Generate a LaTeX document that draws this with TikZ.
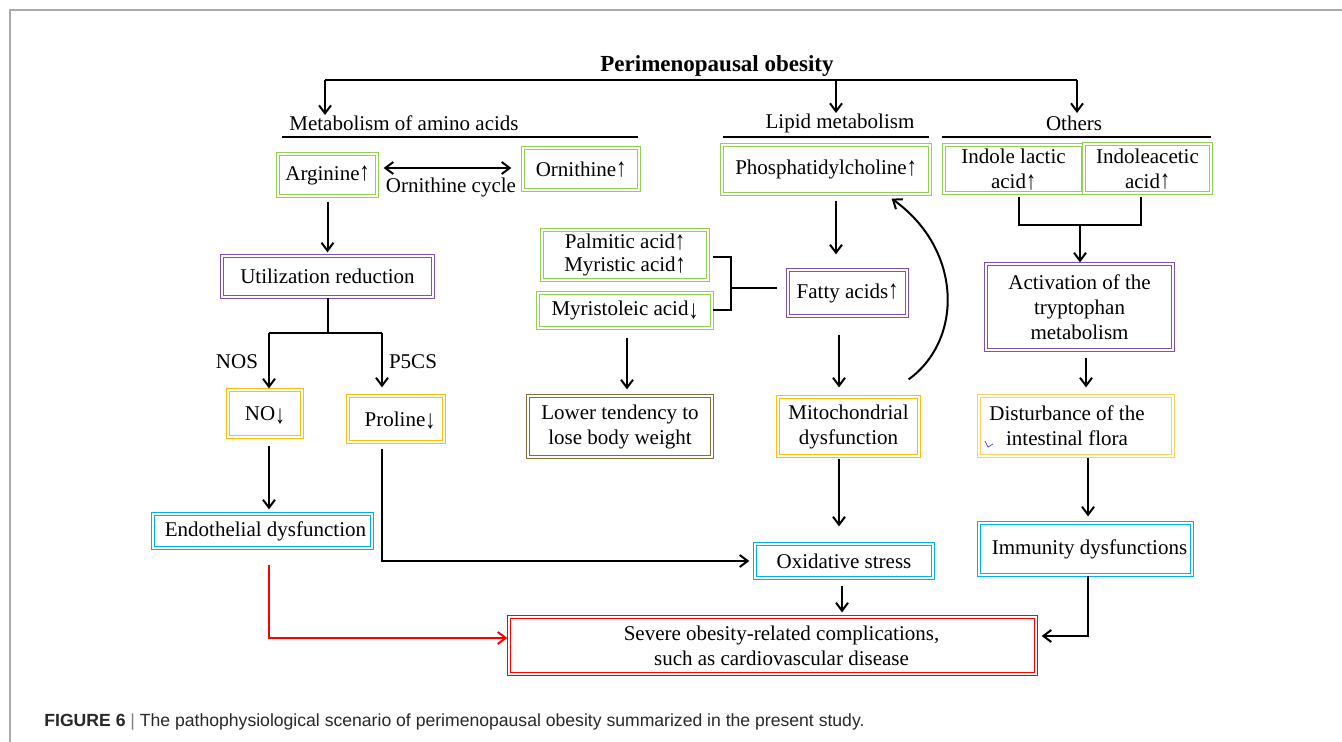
\documentclass[tikz,border=0pt]{standalone}
\usepackage{fontspec}
\setmainfont{Liberation Serif}
\newfontfamily\capfont{Liberation Sans}
\usetikzlibrary{arrows.meta}
\newcommand{\myup}{\raisebox{-0.05ex}[1.55ex][0pt]{\scalebox{0.95}[1.25]{↑}}}
\newcommand{\mydown}{\raisebox{-0.25ex}[1.55ex][0pt]{\scalebox{0.95}[1.25]{↓}}}
\definecolor{cgreen}{RGB}{146,208,80}
\definecolor{cpurple}{RGB}{128,80,180}
\definecolor{corange}{RGB}{255,192,0}
\definecolor{clorange}{RGB}{255,210,90}
\definecolor{colive}{RGB}{128,110,60}
\definecolor{cblue}{RGB}{0,176,240}
\definecolor{cred}{RGB}{255,0,0}
\definecolor{cframe}{RGB}{170,170,170}
\definecolor{ccap}{RGB}{40,40,40}
\tikzset{
  txt/.style={font=\fontsize{10.5}{12.5}\selectfont, align=center, inner sep=0pt},
  box/.style={txt, draw=#1, double=white, line width=0.6pt, double distance=1.1pt},
  ln/.style={line width=1pt},
  arr/.style={ln, -{Straight Barb[length=4pt,width=6pt]}},
  redarr/.style={line width=1pt, draw=cred, -{Straight Barb[length=4pt,width=6pt]}}
}
\begin{document}
\begin{tikzpicture}[x=0.5pt,y=-0.5pt]
\useasboundingbox[fill=white] (0,0) rectangle (1342,742);
% frame
\draw[cframe, line width=0.6pt] (10,742) -- (10,10) -- (1342,10);

% title and headers
\node[txt, font=\fontsize{11.5}{13}\selectfont\bfseries] (title) at (717,66) {Perimenopausal obesity};
\node[txt] (amh) at (404,123) {Metabolism of amino acids};
\node[txt] (liph) at (840,123) {Lipid metabolism};
\node[txt] (oth) at (1074,123) {Others};
\coordinate (jL) at (325,80);
\coordinate (jM) at (836,80);
\coordinate (jR) at (1077,80);
\draw[ln] (jL) -- (jR);
\draw[arr] (jL) -- (325,115);
\draw[arr] (jM) -- (836,113);
\draw[arr] (jR) -- (1077,113);
\draw[ln] (282,137) -- (638,137);
\draw[ln] (723,137) -- (929,137);
\draw[ln] (942,137) -- (1211,137);

% amino acid branch
\node[box=cgreen, minimum width=49.5pt, minimum height=21pt] (arg) at (327.5,175) {Arginine\myup};
\node[box=cgreen, minimum width=58pt, minimum height=21pt] (orn) at (581,169) {Ornithine\myup};
\node[txt] (cyc) at (451,187) {Ornithine cycle};
\draw[ln, {Straight Barb[length=4pt,width=6pt]}-{Straight Barb[length=4pt,width=6pt]}, shorten <=3pt, shorten >=5.5pt]
  ([yshift=3.5pt]arg.east) -- ([yshift=3.5pt]arg.east -| orn.west);
\node[box=cpurple, minimum width=105.5pt, minimum height=20.5pt] (util) at (327.5,276.5) {Utilization reduction};
\draw[arr, shorten <=2.5pt, shorten >=1.5pt] (arg.south) -- (arg.south |- util.north);
\coordinate (sp) at (327.5,333);
\coordinate (spL) at (269,333);
\coordinate (spR) at (382,333);
\node[box=corange, minimum width=37pt, minimum height=23.5pt] (no) at (265,413.5) {NO\mydown};
\node[box=corange, minimum width=48pt, minimum height=23pt] (pro) at (396,419) {\hspace*{4pt}Proline\mydown};
\draw[ln] (util.south) -- (sp);
\draw[ln] (spL) -- (spR);
\draw[arr, shorten >=0.5pt] (spL) -- (spL |- no.north);
\draw[arr, shorten >=4pt] (spR) -- (spR |- pro.north);
\node[txt] (nos) at (237,362) {NOS};
\node[txt] (p5cs) at (413,362) {P5CS};
\node[box=cblue, minimum width=109.5pt, minimum height=17pt] (endo) at (262.5,531) {\hspace*{3pt}Endothelial dysfunction};
\draw[arr, shorten <=4pt, shorten >=2pt] ([xshift=2pt]no.south) -- ([xshift=2pt]no.south |- endo.north);

% lipid branch
\node[box=cgreen, minimum width=104pt, minimum height=24.5pt] (pc) at (826,169.5) {Phosphatidylcholine\myup};
\node[box=cpurple, minimum width=59.5pt, minimum height=23pt] (fa) at (847.5,293) {Fatty acids\myup};
\node[box=cgreen, minimum width=83pt, minimum height=25pt, font=\fontsize{10.5}{11.6}\selectfont] (pal) at (625,255) {Palmitic acid\myup\\Myristic acid\myup};
\node[box=cgreen, minimum width=87pt, minimum height=17.5pt] (myr) at (625,310.5) {Myristoleic acid\mydown};
\node[box=colive, minimum width=92pt, minimum height=30.5pt] (low) at (620,426.5) {Lower tendency to\\lose body weight};
\node[box=corange, minimum width=70.5pt, minimum height=29.5pt] (mito) at (848.5,426.5) {Mitochondrial\\dysfunction};
\node[box=cblue, minimum width=89pt, minimum height=17pt] (oxi) at (844,561) {Oxidative stress};
\draw[arr, shorten <=3pt, shorten >=7.5pt] ([xshift=5pt]pc.south) -- ([xshift=5pt]pc.south |- fa.north);
\coordinate (bk) at (731,288);
\draw[ln] ([shift={(2pt,-1pt)}]pal.east) -| (bk) |- (myr.east);
\draw[ln] (bk) -- ([xshift=-5pt]fa.west |- bk);
\draw[arr, shorten <=4.5pt, shorten >=3pt] ([xshift=1pt]myr.south) -- ([xshift=1pt]myr.south |- low.north);
\draw[arr, shorten <=9pt, shorten >=4.5pt] ([xshift=-4.25pt]fa.south) -- ([xshift=-4.25pt]fa.south |- mito.north);
\draw[arr] ([shift={(-5.5pt,8.5pt)}]mito.north east) .. controls (963,340) and (963,250) .. ([shift={(-19.5pt,-2pt)}]pc.south east);
\draw[arr, shorten <=1pt, shorten >=8.5pt] ([xshift=-4.75pt]mito.south) -- ([xshift=-4.75pt]mito.south |- oxi.north);
\draw[arr, shorten <=3pt, shorten >=2.5pt] ([xshift=-7pt]pro.south) |- (oxi.west);

% others branch
\node[box=cgreen, minimum width=69.5pt, minimum height=24pt] (ila) at (1013.5,169) {Indole lactic\\acid\myup};
\node[box=cgreen, minimum width=63.5pt, minimum height=24.5pt] (iaa) at (1147.5,168.5) {Indoleacetic\\acid\myup};
\node[box=cpurple, minimum width=93.5pt, minimum height=43pt] (act) at (1079.5,307) {Activation of the\\tryptophan\\metabolism};
\node[box=clorange, minimum width=97pt, minimum height=30pt] (dist) at (1076,426) {};
\node[txt] (distT) at (1067,425.5) {Disturbance of the\\intestinal flora};
\node[box=cblue, minimum width=106.5pt, minimum height=26pt] (imm) at (1085.5,549) {\hspace*{4pt}Immunity dysfunctions};
\coordinate (ij) at (1080,225);
\draw[ln, shorten <=1.5pt] ([xshift=2.75pt]ila.south) |- (ij);
\draw[ln, shorten <=1.5pt] ([xshift=-3.25pt]iaa.south) |- (ij);
\draw[arr, shorten >=0.5pt] (ij) -- (ij |- act.north);
\draw[arr, shorten <=3.5pt, shorten >=4pt] ([xshift=3.25pt]act.south) -- ([xshift=3.25pt]act.south |- dist.north);
\draw[arr, shorten <=0.5pt, shorten >=3pt] ([xshift=6pt]dist.south) -- ([xshift=6pt]dist.south |- imm.north);
\draw[blue!70, line width=0.4pt] (985,441) -- (988,447) -- (993,444);

% outcome
\node[box=cred, minimum width=263.5pt, minimum height=28.5pt] (sev) at (772.5,645.5) {\hspace*{9pt}Severe obesity-related complications,\\\hspace*{9pt}such as cardiovascular disease};
\draw[arr, shorten <=3.5pt, shorten >=2pt] ([xshift=-1pt]oxi.south) -- ([xshift=-1pt]oxi.south |- sev.north);
\draw[redarr, shorten <=8pt, shorten >=0.5pt] ([xshift=3.25pt]endo.south) |- ([yshift=3.75pt]sev.west);
\draw[arr, shorten >=2.5pt] ([xshift=1.25pt]imm.south) |- ([yshift=4.75pt]sev.east);

% caption
\node[anchor=west, inner sep=0pt, font=\capfont\fontsize{8.8}{10.5}\selectfont, text=ccap] (cap) at (44,722)
  {\textbf{FIGURE 6} {\color{gray}|} The pathophysiological scenario of perimenopausal obesity summarized in the present study.};
\end{tikzpicture}
\end{document}
